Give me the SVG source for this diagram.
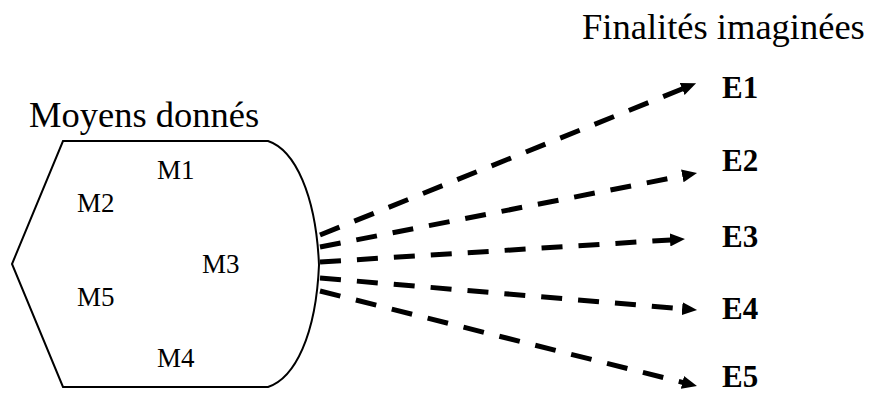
<svg xmlns="http://www.w3.org/2000/svg" width="871" height="394" viewBox="0 0 871 394">
<style>
.title{font-family:"Liberation Serif","Times New Roman",serif;font-size:36.5px;fill:#000}
.m{font-family:"Liberation Serif","Times New Roman",serif;font-size:27px;fill:#000}
.e{font-family:"Liberation Serif","Times New Roman",serif;font-size:31px;font-weight:bold;fill:#000}
.shape{fill:#fff;stroke:#000;stroke-width:2}
.conn{stroke:#000;stroke-width:5;stroke-dasharray:21 16;fill:none;marker-end:url(#ah)}
</style>
<defs>
<marker id="ah" viewBox="0 0 15 13" refX="1" refY="6.5" markerWidth="15" markerHeight="13" markerUnits="userSpaceOnUse" orient="auto">
<path d="M0,0 L15,6.5 L0,13 z" fill="#000"/>
</marker>
</defs>
<rect width="871" height="394" fill="#fff"/>
<g id="moyens">
<path class="shape" d="M63,141 L268,141 C295,150 316,195 319,265 C316,335 295,378 268,387 L63,387 L12,264 Z"/>
<text class="title" x="29" y="127">Moyens donnés</text>
<text class="m" x="157" y="179">M1</text>
<text class="m" x="77" y="212">M2</text>
<text class="m" x="202" y="273">M3</text>
<text class="m" x="157" y="367">M4</text>
<text class="m" x="77" y="306">M5</text>
</g>
<g id="finalites">
<text class="title" x="582" y="39">Finalités imaginées</text>
<text class="e" x="722" y="98">E1</text>
<text class="e" x="722" y="171">E2</text>
<text class="e" x="722" y="247">E3</text>
<text class="e" x="722" y="319">E4</text>
<text class="e" x="722" y="387">E5</text>
</g>
<g id="connectors">
<line class="conn" x1="320" y1="235" x2="683.1" y2="88.6"/>
<line class="conn" x1="320" y1="247" x2="683.3" y2="175.7"/>
<line class="conn" x1="320" y1="262" x2="671" y2="239.9"/>
<line class="conn" x1="320" y1="278" x2="683.1" y2="308.8"/>
<line class="conn" x1="320" y1="291" x2="683.4" y2="382.6"/>
</g>
</svg>
